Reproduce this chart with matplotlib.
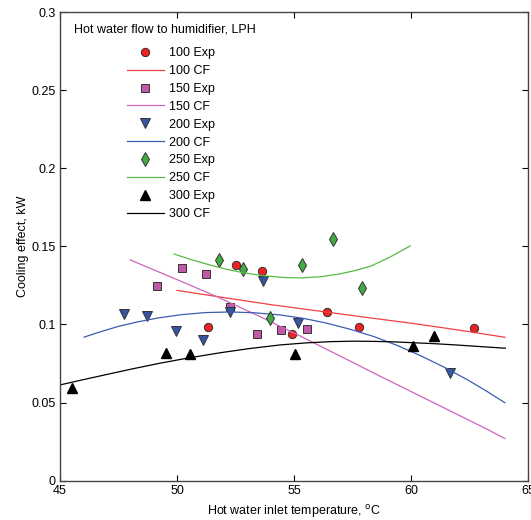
import matplotlib
matplotlib.use("Agg")
import matplotlib.pyplot as plt

plt.rcParams["font.family"] = ["Liberation Sans", "DejaVu Sans"]
plt.rcParams["font.size"] = 9

# experimental points (hot water inlet temperature, cooling effect)
exp100_x = [51.32, 52.52, 53.63, 54.91, 56.41, 57.78, 62.69]
exp100_y = [0.0984, 0.138, 0.1343, 0.0939, 0.108, 0.0984, 0.0978]
exp150_x = [49.16, 50.23, 51.23, 52.26, 53.40, 54.43, 55.53]
exp150_y = [0.1248, 0.136, 0.1323, 0.111, 0.0937, 0.0965, 0.0969]
exp200_x = [47.75, 48.73, 49.96, 51.12, 52.26, 53.69, 55.18, 61.67]
exp200_y = [0.1067, 0.1056, 0.096, 0.090, 0.108, 0.1278, 0.1008, 0.0688]
exp250_x = [51.77, 52.80, 53.97, 55.33, 56.68, 57.89]
exp250_y = [0.1415, 0.1353, 0.1044, 0.1383, 0.1545, 0.1236]
exp300_x = [45.5, 49.53, 50.56, 55.04, 60.06, 60.99]
exp300_y = [0.0595, 0.0815, 0.0809, 0.0809, 0.0862, 0.0928]

# curve fit lines
cf100_x = [50.0, 52.0, 54.0, 56.0, 58.0, 60.0, 62.0, 64.0]
cf100_y = [0.1218, 0.1172, 0.1127, 0.1087, 0.1047, 0.1008, 0.0965, 0.0918]
cf150_x = [48.0, 50.0, 51.7, 53.55, 55.26, 57.0, 58.68, 61.0, 63.3, 64.0]
cf150_y = [0.1413, 0.1287, 0.1178, 0.105, 0.0926, 0.0795, 0.0668, 0.0496, 0.0325, 0.027]
cf200_x = [46.03, 46.7, 47.5, 48.3, 49.2, 50.2, 51.2, 52.26, 53.3, 54.4,
           55.4, 56.4, 57.4, 58.4, 59.4, 60.4, 61.4, 62.4, 63.2, 64.0]
cf200_y = [0.0919, 0.0952, 0.0988, 0.1016, 0.1042, 0.1063, 0.1076, 0.108, 0.1075, 0.1061,
           0.1039, 0.1008, 0.0969, 0.0923, 0.0866, 0.080, 0.0727, 0.0646, 0.0575, 0.0499]
cf250_x = [49.87, 50.6, 51.4, 52.12, 52.9, 53.7, 54.5, 55.3, 56.1, 56.9, 57.6, 58.3, 59.1, 59.96]
cf250_y = [0.1451, 0.1415, 0.1381, 0.1353, 0.1329, 0.1312, 0.1301, 0.1298, 0.1305, 0.1322,
           0.1345, 0.1375, 0.1432, 0.1503]
cf300_x = [45.0, 46.0, 47.0, 48.1, 49.27, 50.5, 51.8, 53.1, 54.4, 55.5, 56.54, 57.5, 58.3,
           59.2, 60.1, 61.0, 62.0, 63.0, 64.02]
cf300_y = [0.0613, 0.0647, 0.068, 0.0716, 0.0752, 0.0786, 0.0818, 0.0846, 0.0869, 0.0882,
           0.089, 0.0893, 0.0892, 0.0889, 0.0883, 0.0877, 0.0868, 0.0858, 0.0848]

fig = plt.figure(figsize=(5.31, 5.20), dpi=100)
ax = fig.add_axes([60 / 531, 1 - 480.7 / 520, 468.3 / 531, 468.7 / 520])

ax.plot(exp100_x, exp100_y, "o", color="#ee2222", mec="#333333", mew=0.7, ms=6, label="100 Exp")
ax.plot(cf100_x, cf100_y, "-", color="#f04040", lw=0.9, label="100 CF")
ax.plot(exp150_x, exp150_y, "s", color="#c05aa8", mec="#333333", mew=0.7, ms=6.3, label="150 Exp")
ax.plot(cf150_x, cf150_y, "-", color="#cc66b8", lw=0.9, label="150 CF")
ax.plot(exp200_x, exp200_y, "v", color="#3455a4", mec="#333333", mew=0.7, ms=7, label="200 Exp")
ax.plot(cf200_x, cf200_y, "-", color="#3c5cb0", lw=0.9, label="200 CF")
ax.plot(exp250_x, exp250_y, "d", color="#44aa44", mec="#333333", mew=0.7, ms=7, label="250 Exp")
ax.plot(cf250_x, cf250_y, "-", color="#55bb44", lw=0.9, label="250 CF")
ax.plot(exp300_x, exp300_y, "^", color="black", ms=7, label="300 Exp")
ax.plot(cf300_x, cf300_y, "-", color="black", lw=0.9, label="300 CF")

ax.set_xlim(45, 65)
ax.set_ylim(0, 0.3)
ax.set_xticks([45, 50, 55, 60, 65])
ax.set_yticks([0, 0.05, 0.1, 0.15, 0.2, 0.25, 0.3])
ax.set_yticklabels(["0", "0.05", "0.1", "0.15", "0.2", "0.25", "0.3"])
ax.tick_params(direction="in", top=True, right=True, length=4, width=0.8, pad=3)
for s in ax.spines.values():
    s.set_color("#444444")
    s.set_linewidth(1)

ax.set_xlabel("Hot water inlet temperature, $^{\\mathrm{o}}$C", labelpad=4.5)
ax.set_ylabel("Cooling effect, kW", labelpad=2)

ax.text(0.03, 0.976, "Hot water flow to humidifier, LPH", transform=ax.transAxes,
        ha="left", va="top")
ax.legend(loc="upper left", bbox_to_anchor=((126.7 - 60) / 468.3, 0.925),
          frameon=False, borderpad=0, borderaxespad=0, handlelength=3.0,
          handletextpad=0.35, labelspacing=0.47)

fig.savefig("out.png", dpi=100)
